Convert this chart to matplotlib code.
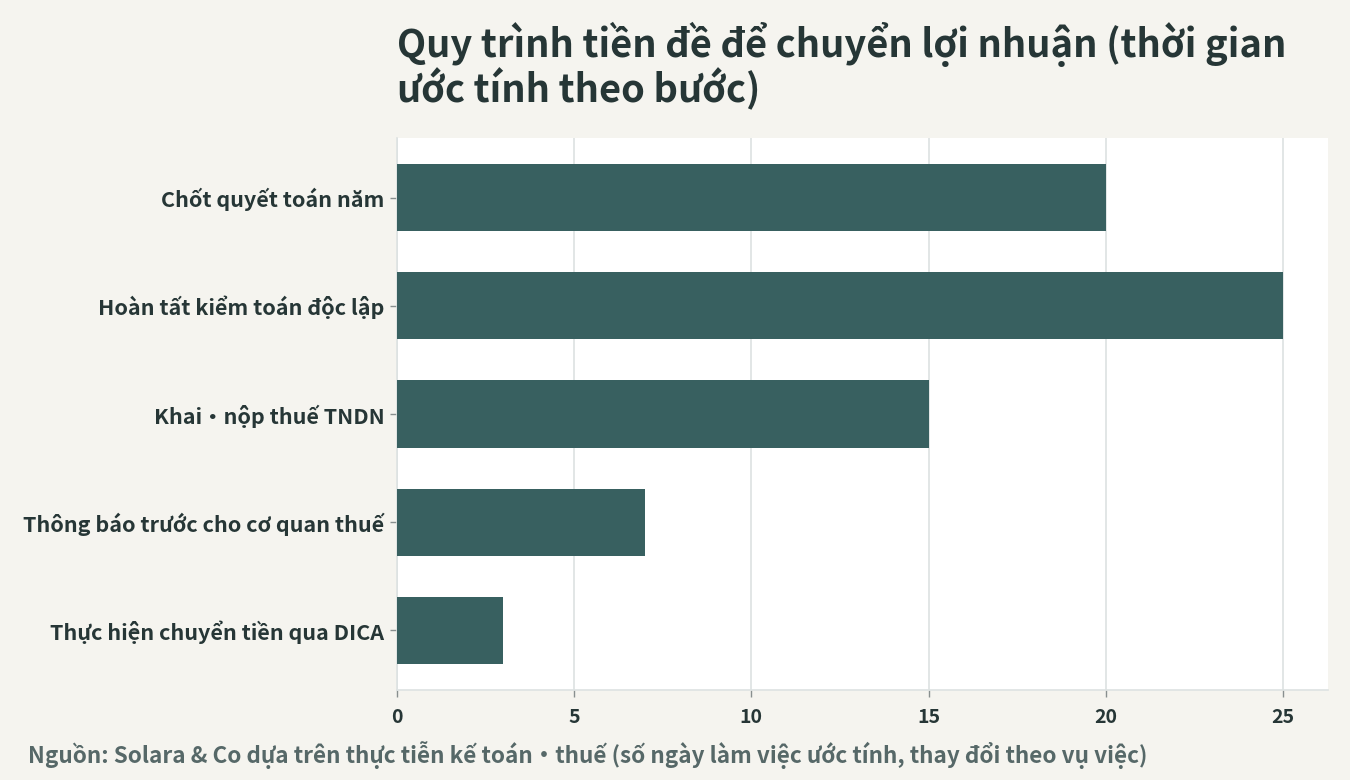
import matplotlib.pyplot as plt

# data
steps = ['Chốt quyết toán năm', 'Hoàn tất kiểm toán độc lập', 'Khai·nộp thuế TNDN',
         'Thông báo trước cho cơ quan thuế', 'Thực hiện chuyển tiền qua DICA']
days = [20, 25, 15, 7, 3]
xticks = [0, 5, 10, 15, 20, 25]

plt.rcParams['font.family'] = ['Noto Sans CJK SC', 'DejaVu Sans']
dark = '#263636'
grid_c = '#dde2e2'

fig = plt.figure(figsize=(13.5, 7.8), dpi=100, facecolor='#f5f4ef')
ax = fig.add_axes([0.294, 0.1154, 0.6897, 0.7077])
ax.set_facecolor('white')

ypos = list(range(len(steps)))
ax.barh(ypos, days, height=0.62, color='#386060', zorder=3)
ax.set_ylim(len(steps) - 0.45, -0.55)
ax.set_xlim(0, 26.27)
ax.set_yticks(ypos)
ax.set_yticklabels(steps, fontsize=15.5, fontweight='bold', color=dark)
ax.set_xticks(xticks)
ax.set_xticklabels([str(t) for t in xticks], fontsize=14, fontweight='bold', color=dark)
ax.grid(axis='x', color=grid_c, linewidth=1.2, zorder=0)
ax.tick_params(axis='both', color='#888f8f', length=5, width=1)
ax.tick_params(axis='x', pad=8)
ax.tick_params(axis='y', pad=4)
for s in ['top', 'right']:
    ax.spines[s].set_visible(False)
for s in ['left', 'bottom']:
    ax.spines[s].set_color(grid_c)
    ax.spines[s].set_linewidth(1.2)

fig.text(0.294, 0.859, 'Quy trình tiền đề để chuyển lợi nhuận (thời gian\nước tính theo bước)',
         fontsize=27.4, fontweight='bold', color=dark, ha='left', va='bottom', linespacing=1.02)
fig.text(0.021, 0.032, 'Nguồn: Solara & Co dựa trên thực tiễn kế toán·thuế (số ngày làm việc ước tính, thay đổi theo vụ việc)',
         fontsize=16.2, fontweight='bold', color='#566868', ha='left', va='center')

fig.savefig('out.png', dpi=100, facecolor=fig.get_facecolor())
